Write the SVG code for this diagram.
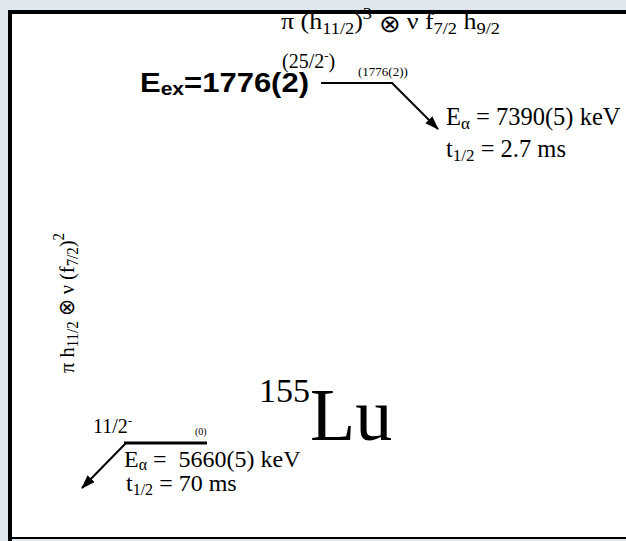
<svg xmlns="http://www.w3.org/2000/svg" width="626" height="541" viewBox="0 0 626 541">
<style>
.s{font-family:"Liberation Serif","Times New Roman",serif;fill:#000}
.b{font-family:"Liberation Sans",Arial,sans-serif;font-weight:bold;fill:#000}
.ln{stroke:#000;fill:none}
</style>
<defs>
<marker id="ah" viewBox="0 0 14 10" refX="13" refY="5" markerWidth="14" markerHeight="10" orient="auto" markerUnits="userSpaceOnUse">
<path d="M0,0 L14,5 L0,10 z" fill="#000"/>
</marker>
</defs>
<rect x="0" y="0" width="626" height="541" fill="#dfe6ee"/>
<rect x="10" y="12" width="630" height="526" fill="#fff"/>
<path d="M10,541 V12 H626" class="ln" stroke-width="4"/>
<line x1="10" y1="538" x2="626" y2="538" stroke="#000" stroke-width="2"/>

<g id="config-top">
<text class="s" x="281" y="29" font-size="24" textLength="219" lengthAdjust="spacingAndGlyphs">π (h<tspan font-size="17" dy="5">11/2</tspan><tspan dy="-5">)</tspan><tspan font-size="17" dy="-10">3</tspan><tspan dy="13"> ⊗ </tspan><tspan dy="-3">ν f</tspan><tspan font-size="17" dy="5">7/2</tspan><tspan dy="-5"> h</tspan><tspan font-size="17" dy="5">9/2</tspan></text>
</g>

<g id="config-bottom">
<text class="s" transform="translate(74,373) rotate(-90)" font-size="22" textLength="140" lengthAdjust="spacingAndGlyphs">π h<tspan font-size="16" dy="4">11/2</tspan><tspan dy="-4"> ⊗ ν (f</tspan><tspan font-size="16" dy="4">7/2</tspan><tspan dy="-4">)</tspan><tspan font-size="16" dy="-10">2</tspan></text>
</g>

<g id="level-isomer">
<text class="b" x="140" y="92" font-size="28" textLength="169" lengthAdjust="spacingAndGlyphs">E<tspan font-size="19" dy="3">ex</tspan><tspan dy="-3">=1776(2)</tspan></text>
<text class="s" x="282" y="68" font-size="20">(25/2<tspan font-size="13" dy="-8">-</tspan><tspan dy="8">)</tspan></text>
<text class="s" x="358" y="76" font-size="13">(1776(2))</text>
</g>

<g id="level-ground">
<text class="s" x="93" y="433" font-size="20">11/2<tspan font-size="13" dy="-8">-</tspan></text>
<text class="s" x="195" y="435" font-size="10">(0)</text>
</g>

<g id="decay-isomer">
<text class="s" x="446" y="125" font-size="24.5">E<tspan font-size="17" dy="4">α</tspan><tspan dy="-4"> = 7390(5) keV</tspan></text>
<text class="s" x="446" y="157" font-size="24.5">t<tspan font-size="17" dy="4">1/2</tspan><tspan dy="-4"> = 2.7 ms</tspan></text>
</g>

<g id="decay-ground">
<text class="s" x="124" y="467" font-size="24">E<tspan font-size="16" dy="3">α</tspan><tspan dy="-3"> = &#160;5660(5) keV</tspan></text>
<text class="s" x="126" y="491" font-size="24">t<tspan font-size="16" dy="4">1/2</tspan><tspan dy="-4"> = 70 ms</tspan></text>
</g>

<g id="nucleus">
<text class="s" x="259" y="440" font-size="74"><tspan font-size="34" dy="-38">155</tspan><tspan dy="38">Lu</tspan></text>
</g>

<g id="connectors">
<line x1="321" y1="83" x2="393" y2="83" class="ln" stroke-width="2"/>
<line x1="392" y1="83" x2="438" y2="129" class="ln" stroke-width="2" marker-end="url(#ah)"/>
<line x1="124" y1="443" x2="207" y2="443" class="ln" stroke-width="3"/>
<line x1="126" y1="443" x2="82" y2="488" class="ln" stroke-width="2" marker-end="url(#ah)"/>
</g>
</svg>
